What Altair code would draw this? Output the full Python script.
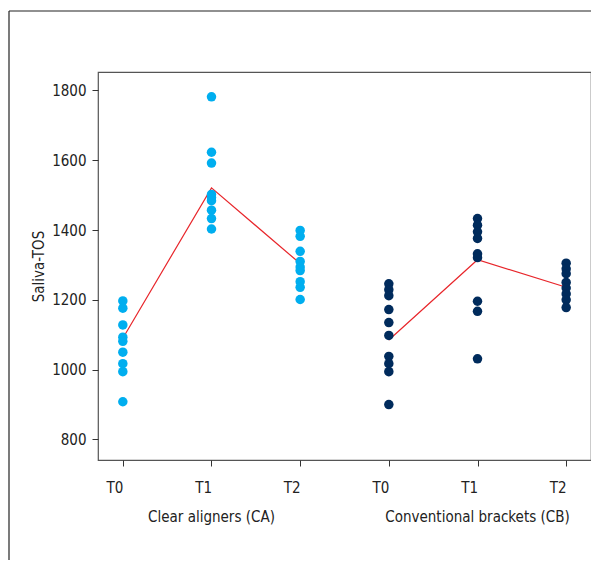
import altair as alt
import pandas as pd

# ---- data ----
groups = ["CA", "CB"]
times = ["T0", "T1", "T2"]
group_labels = ["Clear aligners (CA)", "Conventional brackets (CB)"]

ca_t0 = [1197, 1176, 1128, 1093, 1081, 1050, 1017, 994, 908]
ca_t1 = [1782, 1623, 1592, 1502, 1493, 1484, 1457, 1433, 1403]
ca_t2 = [1399, 1382, 1339, 1310, 1294, 1284, 1252, 1236, 1201]

cb_t0 = [1246, 1229, 1212, 1172, 1135, 1098, 1038, 1017, 994, 900]
cb_t1 = [1433, 1414, 1395, 1376, 1332, 1321, 1196, 1167, 1031]
cb_t2 = [1305, 1289, 1275, 1250, 1234, 1217, 1200, 1178]

ca_means = [1090, 1521, 1304]
cb_means = [1085, 1315, 1236]

y_ticks = [800, 1000, 1200, 1400, 1600, 1800]

FONT = "Liberation Sans Narrow, DejaVu Sans Condensed, sans-serif"
LIGHT = "#00AEEF"
NAVY = "#002B5C"
RED = "#E8262B"

series = {
    ("CA", "T0"): ca_t0, ("CA", "T1"): ca_t1, ("CA", "T2"): ca_t2,
    ("CB", "T0"): cb_t0, ("CB", "T1"): cb_t1, ("CB", "T2"): cb_t2,
}
rows = []
for (g, t), vals in series.items():
    for v in vals:
        rows.append({"group": g, "pos": f"{g}-{t}", "value": v})
points = pd.DataFrame(rows)

mrows = []
for g, means in zip(groups, [ca_means, cb_means]):
    for t, m in zip(times, means):
        mrows.append({"group": g, "pos": f"{g}-{t}", "value": m})
means_df = pd.DataFrame(mrows)

labels_df = pd.DataFrame({"pos": ["CA-T1", "CB-T1"], "label": group_labels})

order = [f"{g}-{t}" for g in groups for t in times]

W, H = 493, 388

xenc = alt.X(
    "pos:N",
    sort=order,
    scale=alt.Scale(type="point", padding=0.28, domain=order),
    axis=alt.Axis(
        title=None,
        labelExpr="slice(datum.value, 3)",
        labelAngle=0,
        tickSize=6,
        labelPadding=21,
        labelFontSize=15,
        labelFont=FONT,
        labelColor="#222",
        tickColor="#333",
        domain=False,
        grid=False,
    ),
)
yscale = alt.Scale(domain=[741, 1853], nice=False, zero=False)
yenc = alt.Y(
    "value:Q",
    scale=yscale,
    axis=alt.Axis(
        title="Saliva-TOS",
        values=y_ticks,
        format="d",
        tickSize=6,
        labelPadding=6,
        labelFontSize=15,
        labelFont=FONT,
        labelColor="#222",
        tickColor="#333",
        titleFont=FONT,
        titleFontSize=15,
        titleFontWeight="normal",
        titleColor="#222",
        titlePadding=5,
        domain=False,
        grid=False,
    ),
)

pts = alt.Chart(points).mark_circle(size=90, opacity=1).encode(
    x=xenc,
    y=yenc,
    color=alt.Color("group:N", scale=alt.Scale(domain=groups, range=[LIGHT, NAVY]), legend=None),
)

lines = alt.Chart(means_df).mark_line(color=RED, strokeWidth=1.2).encode(
    x=alt.X("pos:N", sort=order),
    y=alt.Y("value:Q"),
    detail="group:N",
)

glabels = alt.Chart(labels_df).mark_text(
    font=FONT, fontSize=15, color="#222", baseline="middle", align="center"
).encode(
    x=alt.X("pos:N", sort=order),
    y=alt.value(H + 57),
    text="label:N",
)

frame_df = pd.DataFrame({"a": [0]})
frame_left = alt.Chart(frame_df).mark_rule(color="#222", strokeWidth=1.2).encode(
    x=alt.value(-89), y=alt.value(-61), y2=alt.value(H + 110)
)
frame_top = alt.Chart(frame_df).mark_rule(color="#222", strokeWidth=1.2).encode(
    y=alt.value(-61), x=alt.value(-89), x2=alt.value(W + 20)
)

chart = alt.layer(frame_left, frame_top, lines, pts, glabels).properties(
    width=W,
    height=H,
    autosize=alt.AutoSizeParams(type="none"),
    padding={"left": 90, "top": 64, "right": 0, "bottom": 100},
).configure_view(stroke="#555", strokeWidth=1.2)

chart.save("out.html", embed_options={"renderer": "svg", "actions": False})
